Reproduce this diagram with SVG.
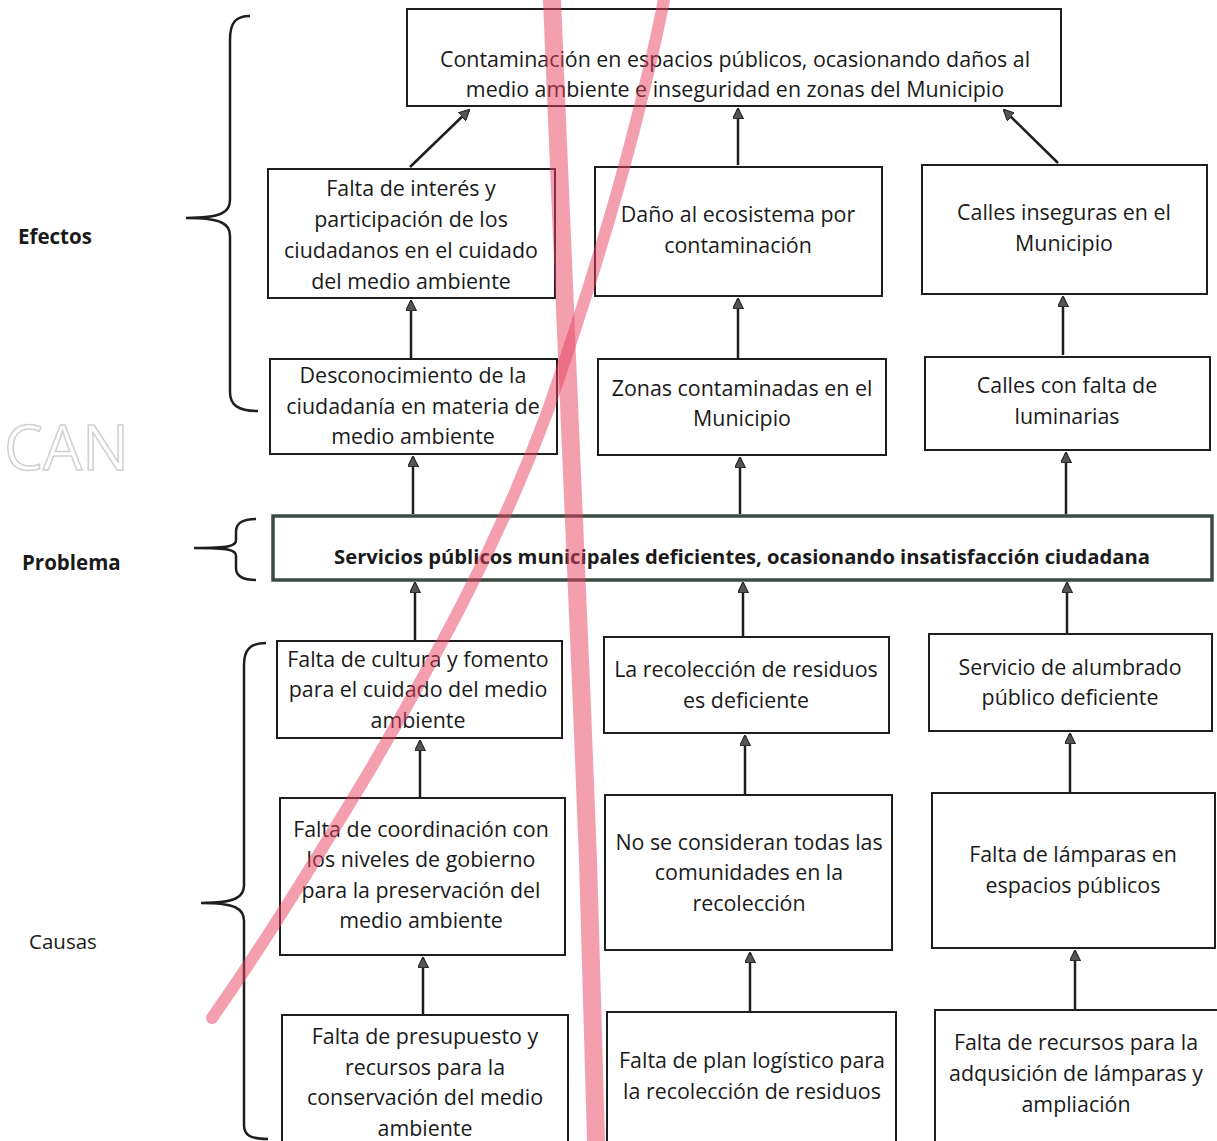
<svg xmlns="http://www.w3.org/2000/svg" width="1217" height="1141" viewBox="0 0 1217 1141">
<style>
.box{fill:#fff;stroke:#1e1e1e;stroke-width:2}
.prob{fill:#fff;stroke:#3b4a42;stroke-width:3.5}
.t{font-family:"Open Sans","Liberation Sans",sans-serif;font-size:21.4px;fill:#1a1a1a;text-anchor:middle}
.pb{font-family:"Open Sans","Liberation Sans",sans-serif;font-size:20.2px;font-weight:bold;fill:#1a1a1a;text-anchor:middle}
.lab{font-family:"Open Sans","Liberation Sans",sans-serif;font-size:20.5px;fill:#1a1a1a}
.conn line{stroke:#1e1e1e;stroke-width:2.5;marker-end:url(#ah)}
.br{fill:none;stroke:#1e1e1e;stroke-width:2.5}
.red{fill:none;stroke:#e8405e;stroke-linecap:round;opacity:0.5}
</style>
<defs>
<marker id="ah" viewBox="0 0 10 10" refX="9" refY="5" markerWidth="4.4" markerHeight="4.4" orient="auto" markerUnits="strokeWidth">
<path d="M0,0 L10,5 L0,10 z" fill="#555" stroke="#222" stroke-width="1"/>
</marker>
</defs>
<rect width="1217" height="1141" fill="#fff"/>
<text x="4" y="470" font-family="'Open Sans','Liberation Sans',sans-serif" font-size="62" fill="none" stroke="#d0d0d0" stroke-width="1.5">CAN</text>

<g id="labels">
<text class="lab" x="18" y="244" font-weight="bold">Efectos</text>
<text class="lab" x="22" y="570" font-weight="bold">Problema</text>
<text class="lab" x="29" y="949">Causas</text>
<path class="br" d="M250,16 C236,16 230,22 230,40 L230,200 C230,212 222,218 186,218 C222,218 230,224 230,236 L230,392 C230,405 238,411 258,411"/>
<path class="br" d="M256,519 C242,519 236,523 236,532 L236,540 C236,546 230,548 194,548 C230,548 236,550 236,556 L236,568 C236,576 242,580 256,580"/>
<path class="br" d="M266,643 C250,643 244,650 244,665 L244,885 C244,897 236,903 201,903 C236,903 244,909 244,921 L244,1125 C244,1135 250,1139 268,1139"/>
</g>

<g id="top">
<rect class="box" x="407" y="9" width="654" height="97"/>
<text class="t" x="735" y="67">Contaminación en espacios públicos, ocasionando daños al</text>
<text class="t" x="735" y="97">medio ambiente e inseguridad en zonas del Municipio</text>
</g>

<g id="a1"><rect class="box" x="268" y="169" width="287" height="129"/>
<text class="t" x="411" y="196">Falta de interés y</text>
<text class="t" x="411" y="227">participación de los</text>
<text class="t" x="411" y="258">ciudadanos en el cuidado</text>
<text class="t" x="411" y="289">del medio ambiente</text></g>
<g id="a2"><rect class="box" x="595" y="167" width="287" height="129"/>
<text class="t" x="738" y="222">Daño al ecosistema por</text>
<text class="t" x="738" y="253">contaminación</text></g>
<g id="a3"><rect class="box" x="922" y="165" width="285" height="129"/>
<text class="t" x="1064" y="220">Calles inseguras en el</text>
<text class="t" x="1064" y="251">Municipio</text></g>

<g id="b1"><rect class="box" x="270" y="359" width="287" height="95"/>
<text class="t" x="413" y="383">Desconocimiento de la</text>
<text class="t" x="413" y="414">ciudadanía en materia de</text>
<text class="t" x="413" y="444">medio ambiente</text></g>
<g id="b2"><rect class="box" x="598" y="359" width="288" height="96"/>
<text class="t" x="742" y="396">Zonas contaminadas en el</text>
<text class="t" x="742" y="426">Municipio</text></g>
<g id="b3"><rect class="box" x="925" y="357" width="285" height="93"/>
<text class="t" x="1067" y="393">Calles con falta de</text>
<text class="t" x="1067" y="424">luminarias</text></g>

<g id="problema"><rect class="prob" x="273" y="516" width="939" height="64"/>
<text class="pb" x="742" y="564">Servicios públicos municipales deficientes, ocasionando insatisfacción ciudadana</text></g>

<g id="c1"><rect class="box" x="277" y="641" width="285" height="97"/>
<text class="t" x="418" y="667">Falta de cultura y fomento</text>
<text class="t" x="418" y="697">para el cuidado del medio</text>
<text class="t" x="418" y="728">ambiente</text></g>
<g id="c2"><rect class="box" x="604" y="637" width="285" height="96"/>
<text class="t" x="746" y="677">La recolección de residuos</text>
<text class="t" x="746" y="708">es deficiente</text></g>
<g id="c3"><rect class="box" x="929" y="634" width="283" height="97"/>
<text class="t" x="1070" y="675">Servicio de alumbrado</text>
<text class="t" x="1070" y="705">público deficiente</text></g>

<g id="d1"><rect class="box" x="280" y="798" width="285" height="157"/>
<text class="t" x="421" y="837">Falta de coordinación con</text>
<text class="t" x="421" y="867">los niveles de gobierno</text>
<text class="t" x="421" y="898">para la preservación del</text>
<text class="t" x="421" y="928">medio ambiente</text></g>
<g id="d2"><rect class="box" x="605" y="795" width="287" height="155"/>
<text class="t" x="749" y="850">No se consideran todas las</text>
<text class="t" x="749" y="880">comunidades en la</text>
<text class="t" x="749" y="911">recolección</text></g>
<g id="d3"><rect class="box" x="932" y="793" width="283" height="155"/>
<text class="t" x="1073" y="862">Falta de lámparas en</text>
<text class="t" x="1073" y="893">espacios públicos</text></g>

<g id="e1"><rect class="box" x="282" y="1015" width="286" height="130"/>
<text class="t" x="425" y="1044">Falta de presupuesto y</text>
<text class="t" x="425" y="1075">recursos para la</text>
<text class="t" x="425" y="1105">conservación del medio</text>
<text class="t" x="425" y="1136">ambiente</text></g>
<g id="e2"><rect class="box" x="607" y="1012" width="289" height="133"/>
<text class="t" x="752" y="1068">Falta de plan logístico para</text>
<text class="t" x="752" y="1099">la recolección de residuos</text></g>
<g id="e3"><rect class="box" x="935" y="1010" width="290" height="135"/>
<text class="t" x="1076" y="1050">Falta de recursos para la</text>
<text class="t" x="1076" y="1081">adqusición de lámparas y</text>
<text class="t" x="1076" y="1112">ampliación</text></g>

<g class="conn" id="connectors">
<line x1="410" y1="167" x2="469" y2="110"/>
<line x1="738" y1="165" x2="738" y2="109"/>
<line x1="1058" y1="163" x2="1004" y2="110"/>
<line x1="411" y1="358" x2="411" y2="301"/>
<line x1="738" y1="358" x2="738" y2="299"/>
<line x1="1063" y1="355" x2="1063" y2="297"/>
<line x1="413" y1="514" x2="413" y2="457"/>
<line x1="740" y1="514" x2="740" y2="458"/>
<line x1="1066" y1="514" x2="1066" y2="453"/>
<line x1="415" y1="640" x2="415" y2="583"/>
<line x1="743" y1="636" x2="743" y2="583"/>
<line x1="1067" y1="633" x2="1067" y2="583"/>
<line x1="420" y1="797" x2="420" y2="741"/>
<line x1="745" y1="794" x2="745" y2="736"/>
<line x1="1070" y1="792" x2="1070" y2="734"/>
<line x1="423" y1="1014" x2="423" y2="958"/>
<line x1="750" y1="1011" x2="750" y2="953"/>
<line x1="1075" y1="1009" x2="1075" y2="951"/>
</g>

<g id="marks">
<path class="red" stroke-width="18" d="M552,0 C556,120 562,250 568,380 C574,520 582,700 588,860 C592,980 594,1060 596,1141"/>
<path class="red" stroke-width="12" d="M664,0 C640,120 600,260 548,410 C500,540 440,650 370,770 C310,870 260,950 212,1018"/>
</g>
</svg>
